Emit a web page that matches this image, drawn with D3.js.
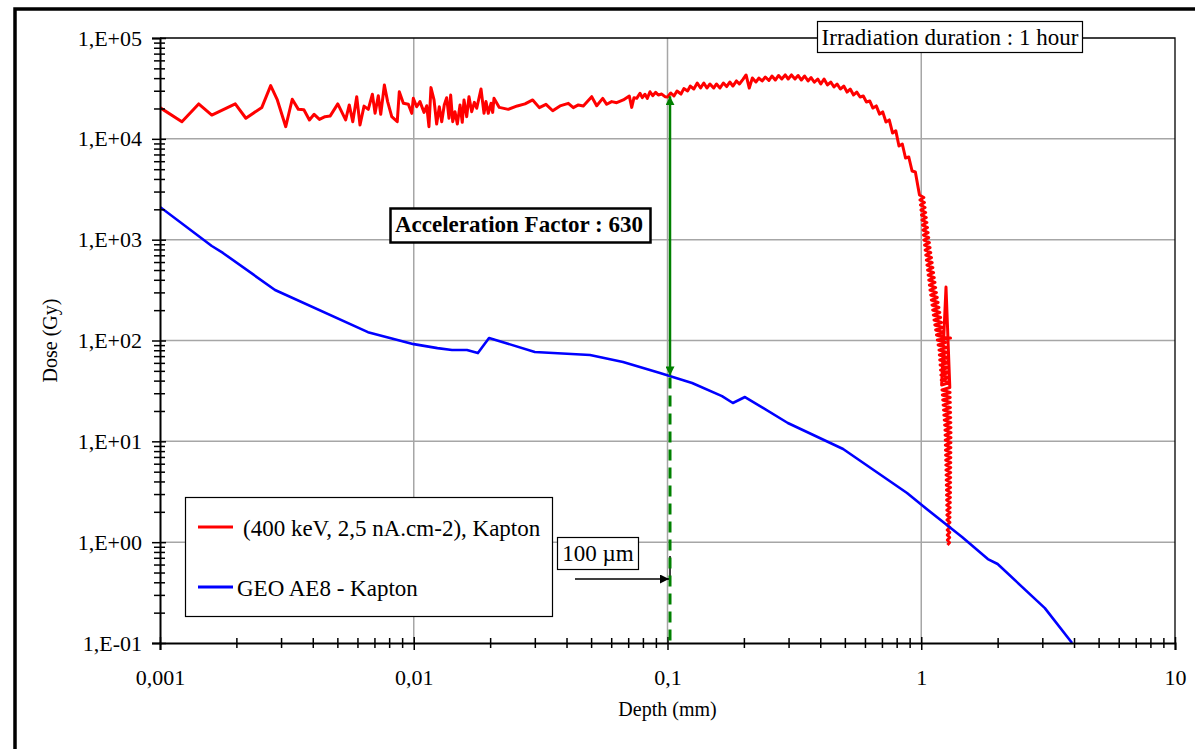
<!DOCTYPE html>
<html>
<head>
<meta charset="utf-8">
<script src="https://cdn.jsdelivr.net/npm/d3@7"></script>
<style>
  html, body { margin: 0; padding: 0; background: #ffffff; }
  svg { display: block; }
  text { font-family: "Liberation Serif", "Times New Roman", serif; fill: #000; }
</style>
</head>
<body>
<script>
// ---------------- DATA ----------------
const xTickValues = [0.001, 0.01, 0.1, 1, 10];
const xTickLabels = ["0,001", "0,01", "0,1", "1", "10"];
const yTickValues = [0.1, 1, 10, 100, 1000, 10000, 100000];
const yTickLabels = ["1,E-01", "1,E+00", "1,E+01", "1,E+02", "1,E+03", "1,E+04", "1,E+05"];

const seriesNames = ["(400 keV, 2,5 nA.cm-2), Kapton", "GEO AE8 - Kapton"];

// Red series: irradiation 400 keV, 2.5 nA/cm2 in Kapton (depth mm, dose Gy)
const redDepth = [
  0.001, 0.00122, 0.00142, 0.0016, 0.00198, 0.00218, 0.00252, 0.00273, 0.0029, 0.00313,
  0.00332, 0.00351, 0.00369, 0.00388, 0.00405, 0.00425, 0.00447, 0.00468, 0.00502, 0.00539,
  0.00557, 0.00575, 0.00596, 0.00614, 0.00637, 0.00662, 0.00687, 0.00704, 0.00725, 0.00741,
  0.00766, 0.00789, 0.00819, 0.00861, 0.00877, 0.0091, 0.00952, 0.00982, 0.00996, 0.01027,
  0.01058, 0.01098, 0.01125, 0.01148, 0.01169, 0.01202, 0.01231, 0.01261, 0.01289, 0.01319,
  0.01348, 0.01377, 0.01398, 0.01424, 0.01454, 0.01485, 0.01522, 0.01553, 0.01578, 0.01617,
  0.01651, 0.01692, 0.01733, 0.01771, 0.01841, 0.01892, 0.01926, 0.01967, 0.02016, 0.02047,
  0.02071, 0.02173, 0.02358, 0.02559, 0.02745, 0.02943, 0.03125, 0.0332, 0.03529, 0.03771,
  0.04065, 0.04254, 0.04452, 0.04658, 0.05027, 0.0526, 0.05555, 0.05761, 0.06027, 0.06307,
  0.06695, 0.07071, 0.07226, 0.07379, 0.07561, 0.0779, 0.07955, 0.08151, 0.08324, 0.0853,
  0.08743, 0.08984, 0.092, 0.09488, 0.09775,
  0.100, 0.103, 0.106, 0.109, 0.113, 0.116, 0.120, 0.123, 0.127, 0.131,
  0.135, 0.139, 0.143, 0.147, 0.152, 0.156, 0.161, 0.166, 0.171, 0.176,
  0.181, 0.187, 0.192, 0.198, 0.204, 0.210, 0.216, 0.223, 0.229, 0.236,
  0.243, 0.251, 0.258, 0.266, 0.274, 0.282, 0.291, 0.299, 0.308, 0.318,
  0.327, 0.337, 0.347, 0.358, 0.368, 0.379, 0.391, 0.402, 0.414, 0.427,
  0.440, 0.453, 0.466, 0.480, 0.495, 0.510, 0.525, 0.541, 0.557, 0.574,
  0.591, 0.608, 0.627, 0.645, 0.665, 0.685, 0.705, 0.726, 0.748, 0.771,
  0.794, 0.817, 0.842, 0.867, 0.893, 0.920, 0.948, 0.976,
  0.9842, 1.0235, 0.9887, 1.0291, 0.9932, 1.0349, 0.9977, 1.0405, 1.0023, 1.0464,
  1.0068, 1.0523, 1.0114, 1.0581, 1.0160, 1.0640, 1.0206, 1.0698, 1.0253, 1.0764,
  1.0309, 1.0832, 1.0365, 1.0901, 1.0422, 1.0971, 1.0478, 1.1041, 1.0536, 1.1111,
  1.0593, 1.1182, 1.0651, 1.1253, 1.0709, 1.1325, 1.0768, 1.1397, 1.0826, 1.1476,
  1.0892, 1.1564, 1.0958, 1.1651, 1.1025, 1.1739, 1.1092, 1.1829, 1.1159, 1.1918,
  1.1227, 1.2017, 1.1313, 1.2128, 1.1397, 1.2237, 1.1484, 1.2349,
  1.3040,
  1.1572, 1.2463, 1.1659, 1.2575, 1.1748, 1.2654, 1.1788, 1.2697, 1.1828, 1.2740,
  1.1869, 1.2783, 1.1909, 1.2828, 1.1950, 1.2871, 1.1990, 1.2915, 1.2032,
  1.2518,
  1.2959, 1.2072, 1.2989, 1.2113, 1.3003, 1.2154, 1.3019, 1.2195, 1.3033, 1.2237,
  1.3048, 1.2279, 1.3063, 1.2321, 1.3078, 1.2362, 1.3092, 1.2405, 1.3097, 1.2419,
  1.3092, 1.2433, 1.3086, 1.2448, 1.3082, 1.2462, 1.3078, 1.2476, 1.3072, 1.2490,
  1.3067, 1.2504, 1.3063, 1.2518, 1.3056, 1.2533, 1.3052, 1.2547, 1.3048, 1.2562,
  1.3042, 1.2575, 1.3034, 1.2585, 1.3023, 1.2596, 1.3012, 1.2606, 1.3001, 1.2616,
  1.2990, 1.2627, 1.2981, 1.2638, 1.2970, 1.2649, 1.2959, 1.2659, 1.2949, 1.2669,
  1.2938, 1.2680, 1.2928, 1.2690
];
const redDose = [
  20400, 14800, 22200, 17200, 22200, 16000, 20500, 33700, 24300, 13200,
  24700, 19600, 19400, 15400, 17500, 15600, 16600, 16800, 22200, 15400,
  21700, 14800, 26200, 13700, 21100, 19600, 27700, 17900, 26800, 17500,
  34200, 23400, 16600, 14800, 29300, 22500, 22000, 17900, 25200, 20800,
  23400, 18300, 21300, 13200, 32200, 24300, 14000, 20800, 14800, 21700,
  25600, 16000, 27200, 14800, 18600, 14000, 21700, 14600, 24300, 16600,
  26200, 18600, 23000, 20100, 31200, 17900, 23400, 17900, 22500, 18300,
  25200, 20500, 19600, 21200, 22200, 24300, 20400, 22000, 19000, 21200,
  22500, 20400, 21700, 21200, 26200, 21300, 25200, 22000, 23400, 22800,
  24300, 26600, 20500, 25600, 25200, 28300, 25600, 27700, 25200, 29300,
  26800, 28900, 27200, 27800, 26200,
  26000, 28500, 26600, 29800, 27800, 31500, 29800, 33400, 31200, 35800,
  31900, 35800, 31900, 35000, 31900, 35000, 31900, 35800, 33000, 36600,
  33400, 37500, 35000, 38700, 43000, 31900, 40100, 36600, 40100, 37500,
  41000, 37900, 42000, 38300, 42500, 39200, 43000, 39200, 43000, 39200,
  42500, 38300, 42000, 37500, 40500, 36400, 39200, 35000, 39200, 34200,
  36600, 32700, 35000, 31200, 33400, 29100, 31200, 27200, 29100, 26000,
  26600, 23200, 23700, 20200, 21200, 17600, 18500, 14700, 15400, 11400,
  12000, 8500, 8880, 6450, 6600, 4800, 4690, 3110,
  2770, 2616, 2471, 2334, 2204, 2082, 1966, 1857, 1754, 1657,
  1565, 1478, 1396, 1319, 1245, 1176, 1111, 1049, 991, 936,
  884, 835, 789, 745, 704, 665, 628, 593, 560, 529,
  500, 472, 446, 421, 398, 376, 355, 335, 316.6, 299.0,
  282.5, 266.8, 252.0, 238.0, 224.8, 212.3, 200.5, 189.4, 178.9, 169.0,
  159.6, 150.7, 142.4, 134.5, 127.0, 120.0, 113.3, 107.0,
  105.8,
  101.1, 95.5, 90.2, 85.2, 80.4, 76.0, 71.8, 67.8, 64.0, 60.5,
  57.1, 53.9, 50.9, 48.1, 45.4, 42.9, 40.5, 38.3, 36.2,
  339,
  34.2, 32.3, 30.5, 28.8, 27.2, 25.7, 24.3, 22.9, 21.6, 20.4,
  19.3, 18.2, 17.2, 16.25, 15.35, 14.5, 13.7, 12.93, 12.21, 11.54,
  10.90, 10.29, 9.72, 9.18, 8.67, 8.19, 7.74, 7.31, 6.90, 6.52,
  6.16, 5.82, 5.49, 5.19, 4.90, 4.63, 4.37, 4.13, 3.90, 3.68,
  3.48, 3.29, 3.10, 2.93, 2.77, 2.62, 2.47, 2.33, 2.20, 2.08,
  1.97, 1.86, 1.76, 1.66, 1.57, 1.48, 1.40, 1.32, 1.25, 1.18,
  1.11, 1.05, 0.99, 0.937
];

// Blue series: GEO AE8 environment in Kapton
const blueDepth = [
  0.001, 0.0016, 0.00177, 0.00284, 0.0066, 0.01, 0.0124, 0.01415, 0.0162, 0.0179,
  0.0198, 0.03, 0.0495, 0.0668, 0.0934, 0.125, 0.164, 0.181, 0.202, 0.298,
  0.492, 0.879, 1.016, 1.448, 1.83, 2.0, 3.07, 3.93
];
const blueDose = [
  2110, 865, 738, 317, 121, 92, 84, 80.6, 80.6, 75,
  106, 77, 71.8, 61.2, 47.6, 37.9, 28.1, 24, 27.5, 15.2,
  8.4, 3.07, 2.28, 1.125, 0.68, 0.607, 0.222, 0.1
];

// Annotations
const arrowDepth = 0.1023;      // depth of the acceleration-factor arrow
const arrowTopDose = 26500;     // red curve at 100 µm
const arrowBottomDose = 45;     // blue curve at 100 µm
const accelLabel = "Acceleration Factor : 630";
const depthLabel = "100 µm";
const durationLabel = "Irradiation duration : 1 hour";
const xTitle = "Depth (mm)";
const yTitle = "Dose (Gy)";

// ---------------- DRAW ----------------
const W = 1195, H = 749;
const L = 160, R = 1175, T = 38, B = 643;

const svg = d3.select("body").append("svg").attr("width", W).attr("height", H);
svg.append("rect").attr("width", W).attr("height", H).attr("fill", "#fff");

const x = d3.scaleLog().domain([0.001, 10]).range([L, R]);
const y = d3.scaleLog().domain([0.1, 100000]).range([B, T]);

// outer thick frame (clipped by window on right/bottom)
svg.append("rect").attr("x", 15).attr("y", 9).attr("width", 1300).attr("height", 1000)
  .attr("fill", "none").attr("stroke", "#000").attr("stroke-width", 3.5);

const minorX = [];
for (let e = -3; e < 1; e++) for (let m = 2; m <= 9; m++) minorX.push(m * Math.pow(10, e));
const minorY = [];
for (let e = -1; e < 5; e++) for (let m = 2; m <= 9; m++) minorY.push(m * Math.pow(10, e));

// grid
const grid = svg.append("g").attr("stroke", "#a6a6a6").attr("stroke-width", 1.5);
grid.selectAll("line.gx").data(xTickValues.slice(1, -1)).join("line")
  .attr("x1", d => x(d)).attr("x2", d => x(d)).attr("y1", T).attr("y2", B);
grid.selectAll("line.gy").data(yTickValues.slice(1, -1)).join("line")
  .attr("x1", L).attr("x2", R).attr("y1", d => y(d)).attr("y2", d => y(d));

// plot border top & right
svg.append("path").attr("d", `M${L},${T}H${R}V${B}`).attr("fill", "none")
  .attr("stroke", "#000").attr("stroke-width", 1.3);

// curves
const defs = svg.append("defs");
defs.append("clipPath").attr("id", "plotclip")
  .append("rect").attr("x", L).attr("y", T - 2).attr("width", R - L).attr("height", B - T + 2);

const line = d3.line().defined(d => d[0] > 0 && d[1] > 0).x(d => x(d[0])).y(d => y(d[1]));
const redData = redDepth.map((d, i) => [d, redDose[i]]);
const blueData = blueDepth.map((d, i) => [d, blueDose[i]]);

const curves = svg.append("g").attr("clip-path", "url(#plotclip)");
curves.append("path").datum(redData).attr("d", line).attr("fill", "none")
  .attr("stroke", "#ff0000").attr("stroke-width", 3).attr("stroke-linejoin", "round");
curves.append("path").datum(blueData).attr("d", line).attr("fill", "none")
  .attr("stroke", "#0000ff").attr("stroke-width", 2.6).attr("stroke-linejoin", "round");

// axes
const yAxis = svg.append("g").attr("transform", `translate(${L},0)`)
  .call(d3.axisLeft(y).tickValues(yTickValues).tickFormat((d, i) => yTickLabels[i]).tickSize(8).tickPadding(10));
yAxis.select(".domain").attr("stroke-width", 2);
yAxis.selectAll(".tick line").attr("x1", 6).attr("x2", -8).attr("stroke-width", 1.5);
yAxis.selectAll(".tick text").style("font-family", "Liberation Serif").style("font-size", "22px").attr("x", -18);
const yMinor = svg.append("g").attr("transform", `translate(${L},0)`)
  .call(d3.axisLeft(y).tickValues(minorY).tickFormat("").tickSize(6));
yMinor.select(".domain").remove();
yMinor.selectAll(".tick line").attr("x1", 5).attr("x2", -6).attr("stroke-width", 1.5);

const xAxis = svg.append("g").attr("transform", `translate(0,${B})`)
  .call(d3.axisBottom(x).tickValues(xTickValues).tickFormat((d, i) => xTickLabels[i]).tickSize(7).tickPadding(19));
xAxis.select(".domain").attr("stroke-width", 2);
xAxis.selectAll(".tick line").attr("y1", -6).attr("y2", 7).attr("stroke-width", 1.5);
xAxis.selectAll(".tick text").style("font-family", "Liberation Serif").style("font-size", "22px");
const xMinor = svg.append("g").attr("transform", `translate(0,${B})`)
  .call(d3.axisBottom(x).tickValues(minorX).tickFormat("").tickSize(5));
xMinor.select(".domain").remove();
xMinor.selectAll(".tick line").attr("y1", -5).attr("y2", 5).attr("stroke-width", 1.5);

// axis titles
svg.append("text").attr("x", x(0.1)).attr("y", 716).attr("text-anchor", "middle")
  .style("font-size", "20px").text(xTitle);
svg.append("text").attr("transform", `translate(57,${(T + B) / 2}) rotate(-90)`)
  .attr("text-anchor", "middle").style("font-size", "20px").text(yTitle);

// green double arrow + dashed drop line
const ax = x(arrowDepth);
defs.append("marker").attr("id", "garrow").attr("viewBox", "0 0 10 10").attr("refX", 10).attr("refY", 5)
  .attr("markerWidth", 3.6).attr("markerHeight", 3.6).attr("orient", "auto-start-reverse")
  .attr("markerUnits", "strokeWidth")
  .append("path").attr("d", "M0,0L10,5L0,10z").attr("fill", "#008000");
defs.append("marker").attr("id", "barrow").attr("viewBox", "0 0 10 10").attr("refX", 10).attr("refY", 5)
  .attr("markerWidth", 7).attr("markerHeight", 6).attr("orient", "auto")
  .attr("markerUnits", "strokeWidth")
  .append("path").attr("d", "M0,0L10,5L0,10z").attr("fill", "#000");

// small black bar under the dashed line
svg.append("line").attr("x1", ax).attr("x2", ax).attr("y1", 556).attr("y2", 584)
  .attr("stroke", "#000").attr("stroke-width", 1.5);
svg.append("line").attr("x1", ax).attr("x2", ax).attr("y1", y(arrowBottomDose) + 2).attr("y2", B)
  .attr("stroke", "#008000").attr("stroke-width", 3).attr("stroke-dasharray", "11,7");
svg.append("line").attr("x1", ax).attr("x2", ax).attr("y1", y(arrowTopDose)).attr("y2", y(arrowBottomDose))
  .attr("stroke", "#008000").attr("stroke-width", 2.5)
  .attr("marker-start", "url(#garrow)").attr("marker-end", "url(#garrow)");

// 100 µm arrow
svg.append("line").attr("x1", 575).attr("x2", ax - 1).attr("y1", 579).attr("y2", 579)
  .attr("stroke", "#000").attr("stroke-width", 1.5).attr("marker-end", "url(#barrow)");

// boxes with text
function box(x0, y0, w, h, sw) {
  svg.append("rect").attr("x", x0).attr("y", y0).attr("width", w).attr("height", h)
    .attr("fill", "#fff").attr("stroke", "#000").attr("stroke-width", sw);
}
box(557.5, 537.5, 81, 32, 1.2);
svg.append("text").attr("x", 598).attr("y", 561).attr("text-anchor", "middle")
  .style("font-size", "23px").text(depthLabel);

box(390.5, 208.5, 260, 34, 2.5);
svg.append("text").attr("x", 519).attr("y", 232).attr("text-anchor", "middle")
  .style("font-size", "23px").style("font-weight", "bold").text(accelLabel);

box(817.5, 21.5, 265, 31, 1.2);
svg.append("text").attr("x", 950).attr("y", 45).attr("text-anchor", "middle")
  .style("font-size", "23px").text(durationLabel);

// legend
box(185.5, 497.5, 367, 119, 1.2);
const legColors = ["#ff0000", "#0000ff"];
const legY = [527, 587];
const legTextX = [243, 237];
seriesNames.forEach((name, i) => {
  svg.append("line").attr("x1", 198).attr("x2", 233).attr("y1", legY[i]).attr("y2", legY[i])
    .attr("stroke", legColors[i]).attr("stroke-width", 3);
  svg.append("text").attr("x", legTextX[i]).attr("y", legY[i] + 9)
    .style("font-size", "23px").text(name);
});
</script>
</body>
</html>
